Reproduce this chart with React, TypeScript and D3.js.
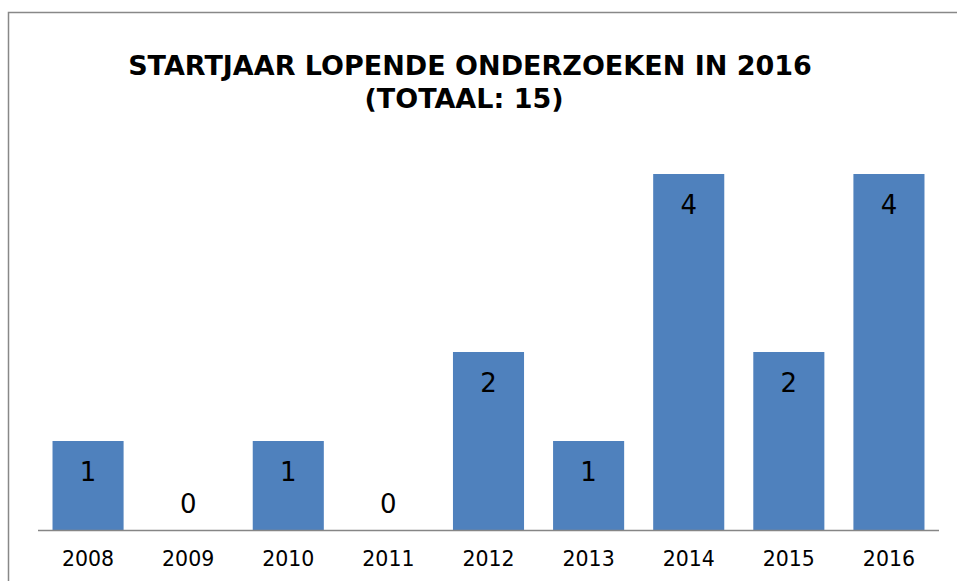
import React from "react";
import * as d3 from "d3";

const years = ["2008", "2009", "2010", "2011", "2012", "2013", "2014", "2015", "2016"];
const counts = [1, 0, 1, 0, 2, 1, 4, 2, 4];
const titleLines = ["STARTJAAR LOPENDE ONDERZOEKEN IN 2016", "(TOTAAL: 15)"];

export default function App() {
  const W = 957, H = 581;
  const x = d3.scaleBand<string>().domain(years).range([38, 939]).paddingInner(0.29).paddingOuter(0.145);
  const y = d3.scaleLinear().domain([0, 4]).range([530, 174]);
  const font = "'DejaVu Sans', Verdana, sans-serif";
  return (
    <svg width={W} height={H} style={{ position: "absolute", left: 0, top: 0, background: "#fff" }}>
      <rect x={8.5} y={12.5} width={W + 20} height={H + 20} fill="#fff" stroke="#888" strokeWidth={1.5} />
      {titleLines.map((t, i) => (
        <text key={i} x={i === 0 ? 470 : 464} y={74.5 + i * 33.5} textAnchor="middle" fontFamily={font} fontWeight="bold" fontSize={27} fill="#000">
          {t}
        </text>
      ))}
      {years.map((yr, i) => (
        <rect key={yr} x={x(yr)} y={y(counts[i])} width={x.bandwidth()} height={y(0) - y(counts[i])} fill="#4F81BD" />
      ))}
      <line x1={38} x2={939} y1={530.5} y2={530.5} stroke="#868686" strokeWidth={1.5} />
      {years.map((yr, i) => (
        <text key={"v" + yr} x={(x(yr) as number) + x.bandwidth() / 2}
          y={counts[i] > 0 ? y(counts[i]) + 40 : y(0) - 17}
          textAnchor="middle" fontFamily={font} fontSize={26} fill="#000">
          {counts[i]}
        </text>
      ))}
      {years.map((yr) => (
        <text key={"t" + yr} x={(x(yr) as number) + x.bandwidth() / 2} y={566} textAnchor="middle" fontFamily={font} fontSize={20.5} fill="#000">
          {yr}
        </text>
      ))}
    </svg>
  );
}
